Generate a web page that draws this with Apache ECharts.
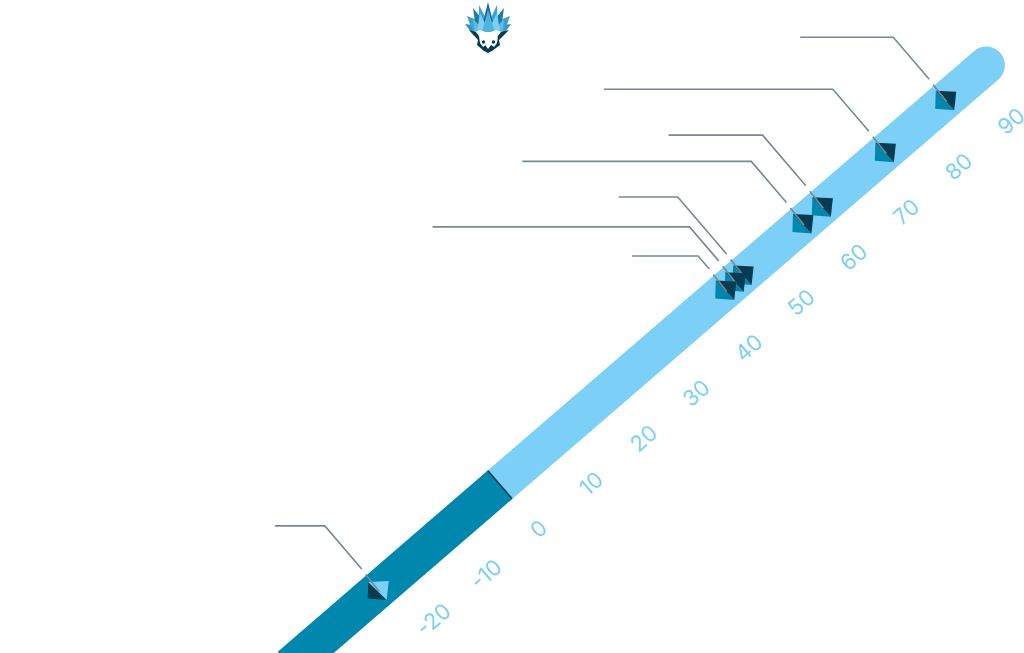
<!DOCTYPE html>
<html>
<head>
<meta charset="utf-8">
<style>html,body{margin:0;padding:0;background:#fff}#c{width:1024px;height:653px}</style>
<script src="https://cdn.jsdelivr.net/npm/echarts@6/dist/echarts.min.js"></script>
</head>
<body>
<div id="c"></div>
<script>
// --- data ---
const tickValues = [-20, -10, 0, 10, 20, 30, 40, 50, 60, 70, 80, 90];
const tickLabels = ['-20', '-10', '0', '10', '20', '30', '40', '50', '60', '70', '80', '90'];
const barBelow = [-40, 0];
const barAbove = [0, 92.6];
const pointValues = [84.9, 73.4, 61.4, 57.7, 46.3, 44.8, 43, -23.2];

// --- layout (callout elbow height above its point, and length of the horizontal run) ---
const calloutRise = [63, 63, 71.5, 62, 78, 55, 34, 64];
const calloutRun = [93, 229, 94, 229, 59, 257, 66, 50];

const W = 1024, H = 653;
const pxPerX = 5.25, pxPerY = 4.53, zeroX = 500, zeroY = 484.8;
const LIGHT = '#7ccff6', TEAL = '#0087ae', DARK = '#063b52', GREY = '#748a96';

const diag = a => a.map(v => [v, v]);

function poly(points, fill) {
  return { type: 'polygon', shape: { points }, style: { fill } };
}
function seg(points, color, width) {
  return { type: 'polyline', shape: { points }, style: { stroke: color, lineWidth: width, fill: null } };
}

const option = {
  animation: false,
  grid: { left: 0, right: 0, top: 0, bottom: 0 },
  xAxis: { type: 'value', show: false, min: -zeroX / pxPerX, max: (W - zeroX) / pxPerX },
  yAxis: { type: 'value', show: false, min: (zeroY - H) / pxPerY, max: zeroY / pxPerY },
  series: [
    { type: 'line', silent: true, showSymbol: false, z: 1, data: diag(barAbove),
      lineStyle: { color: LIGHT, width: 37.5, cap: 'round' } },
    { type: 'line', silent: true, showSymbol: false, z: 2, data: diag(barBelow),
      lineStyle: { color: TEAL, width: 37.5, cap: 'butt' } },
    { type: 'custom', silent: true, z: 3, clip: false, data: [[0, 0]],
      renderItem(p, api) {
        const c = api.coord([0, 0]);
        return seg([[c[0] - 12.1, c[1] - 14], [c[0] + 12.1, c[1] + 14]], DARK, 1.6);
      } },
    { type: 'custom', silent: true, z: 4, clip: false,
      data: tickValues.map((v, i) => [v, v, i]),
      renderItem(p, api) {
        const c = api.coord([api.value(0), api.value(0)]);
        return {
          type: 'text', x: c[0] + 39.5, y: c[1] + 45, rotation: 41 * Math.PI / 180,
          style: { x: 0, y: 0, text: tickLabels[api.value(2)], fill: LIGHT, align: 'center', verticalAlign: 'middle',
                   font: '400 22px Inter, Lato, sans-serif' }
        };
      } },
    { type: 'custom', silent: true, z: 5, clip: false,
      data: pointValues.map((v, i) => [v, v, i]),
      renderItem(p, api) {
        const i = api.value(2), v = api.value(0);
        const c = api.coord([v, v]);
        const [x, y] = [c[0], c[1]];
        const neg = v < 0;
        const TL = [x - 10, y + (neg ? -8 : -9.5)], TR = [x + 10.5, y + (neg ? -9 : -8.5)];
        const BR = [x + 8.5, y + 10], BL = [x - 10.5, y + 8.5];
        const endP = [x - 16.5, y - 21];
        const elbowY = y - calloutRise[i];
        const elbow = [endP[0] - (endP[1] - elbowY) * 36 / 42, elbowY];
        return {
          type: 'group',
          children: [
            poly([TL, BR, BL], neg ? DARK : TEAL),
            poly([TL, TR, BR], neg ? LIGHT : DARK),
            seg([[elbow[0] - calloutRun[i], elbowY], elbow, endP], GREY, 1.6),
            seg([[x - 12.5, y - 15.5], [x + 1, y + 1.5]], GREY, 1.6)
          ]
        };
      } }
  ],
  graphic: {
    elements: [{
      type: 'group', silent: true, z: 10,
      children: [
        poly([[465,24],[480,26],[474,36]], '#2f93bb'),
        poly([[511,24],[496,26],[502,36]], '#2f93bb'),
        poly([[467,16],[482,22],[473,33]], '#3aa0cc'),
        poly([[510,16],[495,22],[504,33]], '#3aa0cc'),
        poly([[473,8],[486,24],[476,29]], '#1f7ba3'),
        poly([[504,8],[491,24],[501,29]], '#1f7ba3'),
        poly([[479,5],[489,24],[479,26]], '#3da5d2'),
        poly([[497,5],[488,24],[498,26]], '#3da5d2'),
        poly([[488,2],[483,22],[493,22]], '#1b6f95'),
        poly([[473,19],[485,32],[474,32]], '#5dbbe6'),
        poly([[504,19],[492,32],[503,32]], '#5dbbe6'),
        poly([[480,13],[489,32],[477,32]], '#7ccff6'),
        poly([[497,13],[488,32],[500,32]], '#7ccff6'),
        poly([[488,10],[482,32],[495,32]], '#4fb2df'),
        poly([[472,33],[480,30],[488,33],[496,30],[505,33],[497,44],[488,50],[480,44]], '#ffffff'),
        poly([[469,30],[476,32],[488,49],[488,53],[484,51],[477,45],[478,40]], '#063b52'),
        poly([[509,30],[501,32],[488,49],[488,53],[492,51],[500,45],[499,40]], '#063b52'),
        poly([[479,36],[487,44],[483,47],[480,43]], '#ffffff'),
        poly([[498,36],[490,44],[494,47],[497,43]], '#ffffff'),
        { type: 'circle', shape: { cx: 483.5, cy: 42, r: 1.7 }, style: { fill: '#063b52' } },
        { type: 'circle', shape: { cx: 493.5, cy: 42, r: 1.7 }, style: { fill: '#063b52' } }
      ]
    }]
  }
};
const chart = echarts.init(document.getElementById('c'));
chart.setOption(option);
</script>
</body>
</html>
